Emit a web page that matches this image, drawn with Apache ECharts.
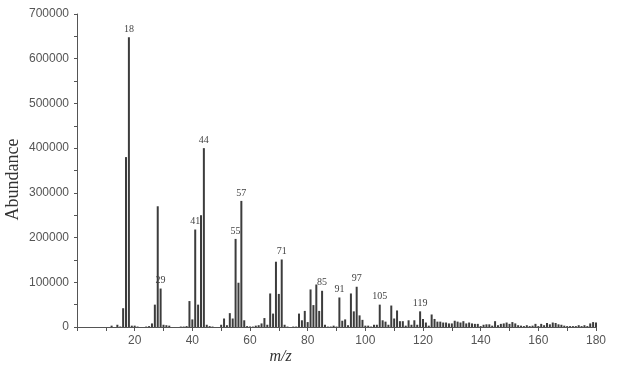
<!DOCTYPE html>
<html>
<head>
<meta charset="utf-8">
<script src="https://cdn.jsdelivr.net/npm/echarts@6/dist/echarts.min.js"></script>
<style>
  html, body { margin: 0; padding: 0; background: #fff; }
  #chart { width: 618px; height: 368px; }
</style>
</head>
<body>
<div id="chart"></div>
<script>
// m/z values 10..180 and their abundance
var mzStart = 10;
var abundance = [
  0, 0, 3000, 0, 5000, 1000, 42000, 380000, 648000, 3000,          // 10-19
  3000, 1000, 0, 0, 1000, 2000, 8000, 50000, 270000, 86000,        // 20-29
  5000, 4000, 3000, 0, 0, 0, 1000, 1000, 2000, 58000,              // 30-39
  17000, 218000, 50000, 250000, 400000, 5000, 2000, 1000, 0, 0,    // 40-49
  5000, 19000, 4000, 31000, 19000, 197000, 99000, 282000, 15000, 2000, // 50-59
  1000, 1000, 3000, 4000, 8000, 20000, 5000, 75000, 30000, 146000, // 60-69
  74000, 151000, 5000, 1000, 0, 1000, 1000, 30000, 15000, 36000,   // 70-79
  11000, 84000, 49000, 95000, 36000, 81000, 5000, 1000, 1000, 3000, // 80-89
  1000, 66000, 14000, 17000, 4000, 75000, 35000, 90000, 26000, 16000, // 90-99
  3000, 3000, 1000, 5000, 5000, 50000, 15000, 12000, 5000, 48000,  // 100-109
  19000, 37000, 13000, 13000, 3000, 15000, 5000, 15000, 5000, 35000, // 110-119
  18000, 10000, 3000, 28000, 18000, 12000, 12000, 10000, 10000, 8000, // 120-129
  8000, 14000, 12000, 10000, 13000, 8000, 10000, 8000, 7000, 7000, // 130-139
  2000, 5000, 6000, 6000, 3000, 13000, 4000, 7000, 8000, 10000,    // 140-149
  7000, 11000, 8000, 4000, 3000, 2000, 4000, 2000, 3000, 7000,     // 150-159
  2000, 7000, 4000, 9000, 6000, 10000, 9000, 6000, 5000, 3000,     // 160-169
  2000, 2000, 2000, 2000, 4000, 2000, 4000, 2000, 8000, 11000,     // 170-179
  10000                                                             // 180
];
var labelledPeaks = [18, 29, 41, 44, 55, 57, 71, 85, 91, 97, 105, 119];

var seriesData = [];
for (var i = 0; i < abundance.length; i++) {
  seriesData.push([mzStart + i, abundance[i]]);
}

var myChart = echarts.init(document.getElementById('chart'));
var option = {
  animation: false,
  grid: { left: 77, right: 22, top: 14, bottom: 41, containLabel: false, outerBoundsMode: 'none' },
  xAxis: {
    type: 'value',
    min: 0,
    max: 180,
    interval: 20,
    name: 'm/z',
    nameLocation: 'middle',
    nameGap: 22,
    nameMoveOverlap: false,
    nameTextStyle: {
      fontFamily: 'Liberation Serif', fontStyle: 'italic', fontSize: 16,
      color: '#333', padding: [0, 112, 0, 0]
    },
    axisLine: { lineStyle: { color: '#555', width: 1 } },
    axisTick: { length: 4, lineStyle: { color: '#555' } },
    minorTick: { show: true, splitNumber: 2, length: 4, lineStyle: { color: '#555' } },
    splitLine: { show: false },
    axisLabel: {
      showMinLabel: false,
      fontFamily: 'Liberation Sans', fontSize: 12, color: '#555', margin: 8
    }
  },
  yAxis: {
    type: 'value',
    min: 0,
    max: 700000,
    interval: 100000,
    name: 'Abundance',
    nameLocation: 'middle',
    nameGap: 55,
    nameMoveOverlap: false,
    nameTextStyle: {
      fontFamily: 'Liberation Serif', fontSize: 18, color: '#333',
      padding: [0, 18, 0, 0]
    },
    axisLine: { show: true, lineStyle: { color: '#555', width: 1 } },
    axisTick: { show: true, length: 3, lineStyle: { color: '#555' } },
    minorTick: { show: true, splitNumber: 2, length: 3, lineStyle: { color: '#555' } },
    splitLine: { show: false },
    axisLabel: {
      fontFamily: 'Liberation Sans', fontSize: 12, color: '#555', margin: 8,
      formatter: function (v) { return String(v); }
    }
  },
  series: [{
    type: 'bar',
    data: seriesData,
    barWidth: 2,
    itemStyle: { color: '#3c3c3c' },
    label: {
      show: true,
      position: 'top',
      distance: 3,
      fontFamily: 'Liberation Serif',
      fontSize: 10,
      color: '#444',
      formatter: function (p) {
        return labelledPeaks.indexOf(p.value[0]) >= 0 ? String(p.value[0]) : '';
      }
    }
  }]
};
myChart.setOption(option);
</script>
</body>
</html>
